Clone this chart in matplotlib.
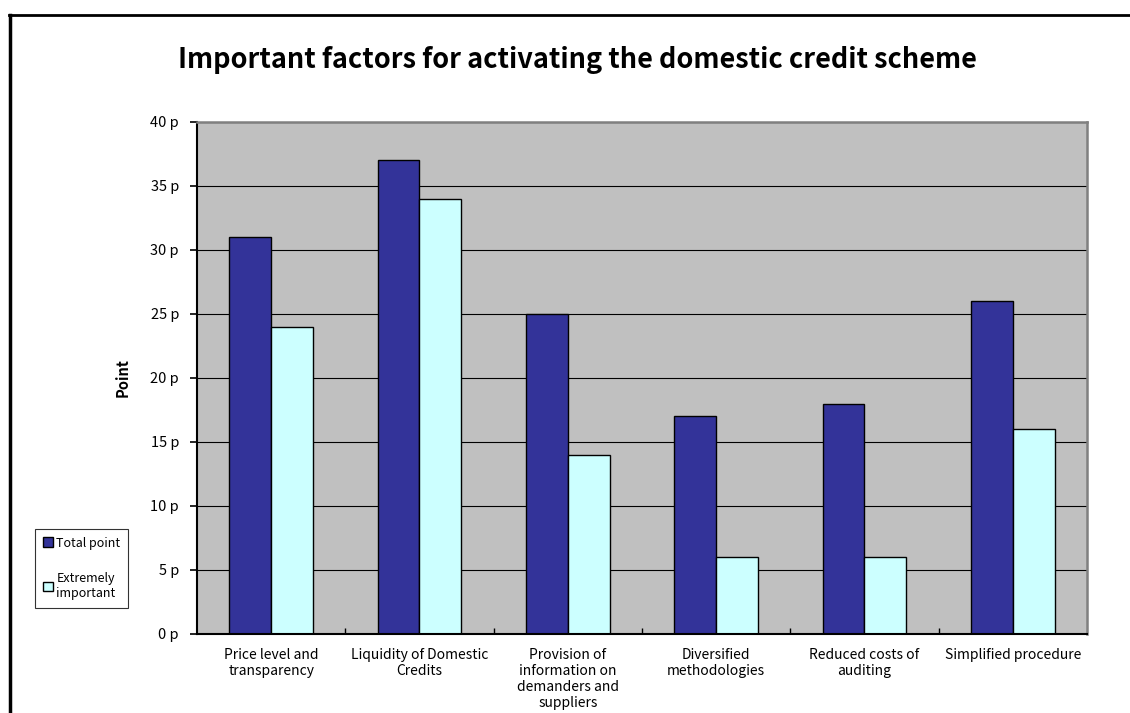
import matplotlib.pyplot as plt
from matplotlib.lines import Line2D
from matplotlib.patches import Patch
import numpy as np

plt.rcParams['font.family'] = ['Noto Sans CJK JP', 'DejaVu Sans']

categories = ['Price level and\ntransparency', 'Liquidity of Domestic\nCredits',
              'Provision of\ninformation on\ndemanders and\nsuppliers',
              'Diversified\nmethodologies', 'Reduced costs of\nauditing',
              'Simplified procedure']
total_point = [31, 37, 25, 17, 18, 26]
extremely_important = [24, 34, 14, 6, 6, 16]
yticks = [0, 5, 10, 15, 20, 25, 30, 35, 40]

W, H = 1130, 713
fig = plt.figure(figsize=(W / 100, H / 100), dpi=100)
ax = fig.add_axes([197 / W, 1 - 634 / H, 890 / W, 512 / H])

x = np.arange(len(categories))
bw = 0.283
ax.bar(x - bw / 2, total_point, bw, color='#333399', edgecolor='black', linewidth=1)
ax.bar(x + bw / 2, extremely_important, bw, color='#CCFFFF', edgecolor='black', linewidth=1)

ax.set_facecolor('#C0C0C0')
ax.set_xlim(-0.5, len(categories) - 0.5)
ax.set_ylim(0, 40)
ax.set_yticks(yticks)
ax.set_yticklabels([f'{v} p' for v in yticks], fontsize=10.5)
ax.yaxis.grid(True, color='black', linewidth=0.8)
ax.set_axisbelow(True)
ax.tick_params(axis='y', direction='out', length=5, width=1.2, pad=8)

ax.set_xticks(x)
ax.set_xticklabels(categories, fontsize=10, linespacing=1.2, va='top')
ax.tick_params(axis='x', which='major', length=0, pad=10)
ax.set_xticks(np.arange(0.5, len(categories) - 0.5, 1), minor=True)
ax.tick_params(axis='x', which='minor', direction='in', length=4, width=1)

for s in ['left', 'bottom']:
    ax.spines[s].set_color('black')
    ax.spines[s].set_linewidth(1.5)
for s in ['top', 'right']:
    ax.spines[s].set_color('#808080')
    ax.spines[s].set_linewidth(1.8)

ax.set_ylabel('Point', fontsize=10.5, fontweight='bold', labelpad=14)

fig.text(577 / W, 1 - 60 / H, 'Important factors for activating the domestic credit scheme',
         ha='center', va='center', fontsize=19.5, fontweight='bold')

# outer frame
fig.add_artist(Line2D([9 / W, 1], [1 - 15 / H, 1 - 15 / H], color='black', linewidth=2,
                      transform=fig.transFigure))
fig.add_artist(Line2D([10 / W, 10 / W], [0, 1 - 15 / H], color='black', linewidth=2.5,
                      transform=fig.transFigure))

handles = [Patch(facecolor='#333399', edgecolor='black'),
           Patch(facecolor='#CCFFFF', edgecolor='black')]
leg = fig.legend(handles, ['Total point', 'Extremely\nimportant'],
                 loc='upper left', bbox_to_anchor=(35 / W, 1 - 529 / H),
                 fontsize=9, handlelength=0.8, handleheight=0.8, handletextpad=0.3,
                 labelspacing=1.8, borderpad=0.6, fancybox=False, frameon=True,
                 borderaxespad=0)
leg.get_frame().set_edgecolor('black')
leg.get_frame().set_linewidth(0.8)

fig.savefig('out.png', dpi=100)
